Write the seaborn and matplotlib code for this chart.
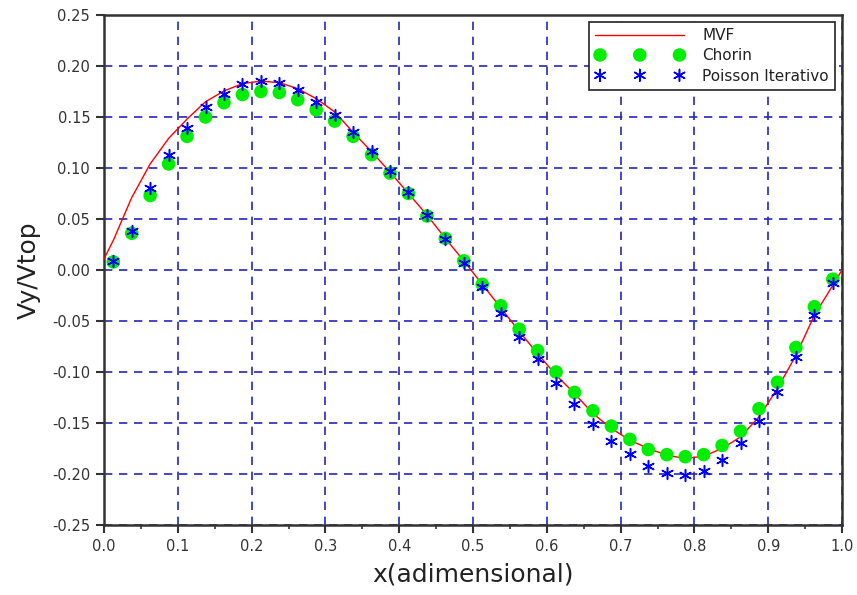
import numpy as np
import pandas as pd
import matplotlib
matplotlib.use("Agg")
import matplotlib.pyplot as plt
import seaborn as sns
from matplotlib.ticker import MultipleLocator

# ---- data ----
x_pts = [0.0125, 0.0375, 0.0625, 0.0875, 0.1125, 0.1375, 0.1625, 0.1875, 0.2125, 0.2375,
         0.2625, 0.2875, 0.3125, 0.3375, 0.3625, 0.3875, 0.4125, 0.4375, 0.4625, 0.4875,
         0.5125, 0.5375, 0.5625, 0.5875, 0.6125, 0.6375, 0.6625, 0.6875, 0.7125, 0.7375,
         0.7625, 0.7875, 0.8125, 0.8375, 0.8625, 0.8875, 0.9125, 0.9375, 0.9625, 0.9875]

chorin = [0.008, 0.036, 0.073, 0.104, 0.131, 0.150, 0.164, 0.172, 0.175, 0.174,
          0.167, 0.157, 0.146, 0.131, 0.113, 0.095, 0.075, 0.053, 0.031, 0.009,
          -0.014, -0.035, -0.058, -0.079, -0.100, -0.120, -0.138, -0.153, -0.166, -0.176,
          -0.181, -0.183, -0.181, -0.172, -0.158, -0.136, -0.110, -0.076, -0.036, -0.009]

poisson = [0.009, 0.038, 0.080, 0.113, 0.139, 0.160, 0.173, 0.182, 0.185, 0.183,
           0.176, 0.165, 0.152, 0.135, 0.117, 0.097, 0.076, 0.054, 0.030, 0.007,
           -0.017, -0.042, -0.066, -0.087, -0.111, -0.131, -0.151, -0.168, -0.180, -0.192,
           -0.199, -0.201, -0.197, -0.186, -0.170, -0.148, -0.120, -0.085, -0.044, -0.013]

x_mvf = [0.0] + x_pts + [1.0]
mvf = [0.011, 0.029, 0.071, 0.104, 0.129, 0.148, 0.165, 0.1755, 0.1827, 0.1852, 0.1837,
       0.1778, 0.168, 0.155, 0.135, 0.116, 0.096, 0.075, 0.054, 0.031, 0.009,
       -0.014, -0.037, -0.060, -0.082, -0.103, -0.121, -0.1407, -0.1554, -0.1668, -0.175,
       -0.1815, -0.1848, -0.1825, -0.175, -0.1636, -0.144, -0.1162, -0.0837, -0.0445, -0.015,
       0.0]

x_ticks = [0.0, 0.1, 0.2, 0.3, 0.4, 0.5, 0.6, 0.7, 0.8, 0.9, 1.0]
y_ticks = [-0.25, -0.20, -0.15, -0.10, -0.05, 0.00, 0.05, 0.10, 0.15, 0.20, 0.25]

labels = ["MVF", "Chorin", "Poisson Iterativo"]
xlabel = "x(adimensional)"
ylabel = "Vy/Vtop"

# ---- plot ----
sns.set_style("white")
plt.rcParams['font.family'] = ['DejaVu Sans']

fig = plt.figure(figsize=(8.57, 5.95), dpi=100)
ax = fig.add_axes([0.1214, 0.1176, 0.8611, 0.8572])

df_mvf = pd.DataFrame({"x": x_mvf, "y": mvf})
df_ch = pd.DataFrame({"x": x_pts, "y": chorin})
df_po = pd.DataFrame({"x": x_pts, "y": poisson})

sns.lineplot(data=df_mvf, x="x", y="y", ax=ax, color="#ff0000", lw=1.0,
             label=labels[0], zorder=3, sort=False)
sns.scatterplot(data=df_ch, x="x", y="y", ax=ax, color="#00ee00", s=95,
                marker="o", edgecolor="none", label=labels[1], zorder=4)
sns.scatterplot(data=df_po, x="x", y="y", ax=ax, color="#0000ff", s=72,
                marker=(6, 2, 0), linewidth=1.1, label=labels[2], zorder=5)

ax.set_xlim(0.0, 1.0)
ax.set_ylim(-0.25, 0.25)
ax.set_xticks(x_ticks)
ax.set_xticklabels([f"{v:.1f}" for v in x_ticks])
ax.set_yticks(y_ticks)
ax.set_yticklabels([f"{v:.2f}" for v in y_ticks])
ax.xaxis.set_minor_locator(MultipleLocator(0.05))

ax.grid(True, which="major", color="#2626b8", linestyle=(0, (5, 4)), linewidth=1.2, zorder=1)
ax.set_axisbelow(True)

for sp in ax.spines.values():
    sp.set_color("#333333")
    sp.set_linewidth(1.8)
    sp.set_visible(True)

ax.tick_params(axis="both", which="major", direction="out", length=6, width=1.5,
               color="#333333", labelsize=10.5, labelcolor="#333333", pad=4,
               bottom=True, left=True)
ax.tick_params(axis="x", which="minor", direction="out", length=3, width=1.2,
               color="#333333", bottom=True)

ax.set_xlabel(xlabel, fontsize=18, color="#222222", labelpad=6)
ax.set_ylabel(ylabel, fontsize=18, color="#222222", labelpad=8)

leg = ax.legend(loc="upper right", fontsize=11, frameon=True, fancybox=False,
                edgecolor="#222222", framealpha=1.0, scatterpoints=3,
                scatteryoffsets=[0.5],
                handlelength=5.8, borderaxespad=0.45, labelspacing=0.35,
                handletextpad=1.2, borderpad=0.4)
leg.get_frame().set_linewidth(1.2)
for t in leg.get_texts():
    t.set_color("#222222")

fig.savefig("out.png", dpi=100, facecolor="white")
